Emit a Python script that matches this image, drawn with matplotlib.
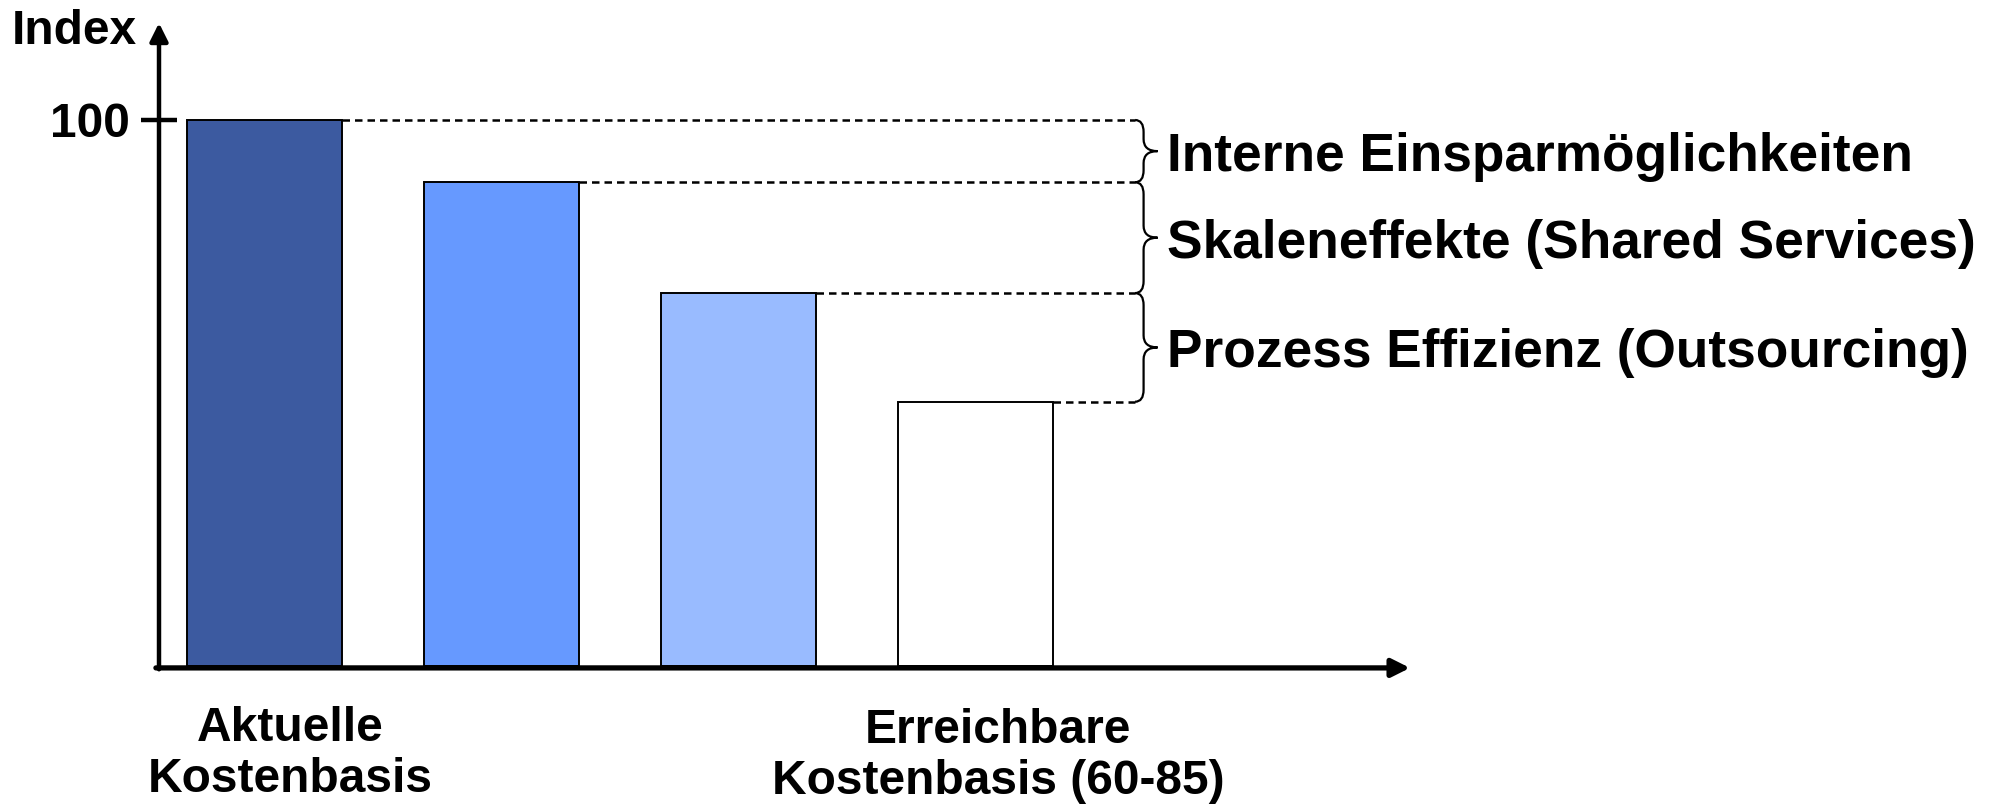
import matplotlib
matplotlib.use("Agg")
import matplotlib.pyplot as plt
from matplotlib.path import Path
from matplotlib.patches import PathPatch
from matplotlib.transforms import offset_copy

# --- data -------------------------------------------------------------
bar_values = [100, 88.6, 68.3, 48.4]
bar_colors = ["#3C5AA0", "#6699FF", "#99BBFF", "#FFFFFF"]
bracket_labels = [
    "Interne Einsparmöglichkeiten",
    "Skaleneffekte (Shared Services)",
    "Prozess Effizienz (Outsourcing)",
]
category_labels = [
    ("Aktuelle", "Kostenbasis"),
    ("Erreichbare", "Kostenbasis (60-85)"),
]
y_tick_value = 100
y_label = "Index"

# --- figure -----------------------------------------------------------
W, H, DPI = 1992, 808, 100
plt.rcParams["font.family"] = ["Liberation Sans", "DejaVu Sans"]
plt.rcParams["font.weight"] = "bold"
fig = plt.figure(figsize=(W / DPI, H / DPI), dpi=DPI)
fig.patch.set_facecolor("white")

# axes spans from the y-axis line to the tip of the x-axis arrow
x0_px, x1_px, y0_px, y1_px = 159, 1410, 666, 23
ax = fig.add_axes([x0_px / W, 1 - y0_px / H, (x1_px - x0_px) / W, (y0_px - y1_px) / H])
ax.set_xlim(-0.445, 4.833)
ax.set_ylim(0, 117.77)
ax.axis("off")

xs = list(range(len(bar_values)))
bar_w = 0.655
ax.bar(xs, bar_values, width=bar_w, color=bar_colors, edgecolor="black",
       linewidth=1.4, zorder=3)

# axes with arrow heads
xl, xr = ax.get_xlim()
yb, yt = ax.get_ylim()
arrow_kw = dict(arrowstyle="-|>,head_length=0.4,head_width=0.2", mutation_scale=27,
                color="black", shrinkA=0, shrinkB=0)
ax.annotate("", xy=(xl, yt), xytext=(xl, yb - 0.6), xycoords="data",
            arrowprops=dict(lw=3.2, **arrow_kw), annotation_clip=False, zorder=5)
ax.annotate("", xy=(xr, yb - 0.35), xytext=(xl - 0.013, yb - 0.35), xycoords="data",
            arrowprops=dict(lw=3.8, **arrow_kw), annotation_clip=False, zorder=5)

# tick mark and label at 100
ax.plot([xl - 0.076, xl + 0.076], [y_tick_value] * 2, color="black", lw=3.2,
        solid_capstyle="butt", clip_on=False, zorder=5)
tick_tr = offset_copy(ax.transData, fig=fig, x=-11, y=-17, units="dots")
ax.text(xl - 0.076, y_tick_value, str(y_tick_value), transform=tick_tr,
        ha="right", va="baseline", fontsize=34.5, fontweight="bold")

fig.text(12 / W, 1 - 44 / H, y_label, ha="left", va="baseline",
         fontsize=34.5, fontweight="bold")

# dashed guide lines from each bar top to the braces
brace_x = 3.673
for x, v in zip(xs, bar_values):
    ax.plot([x + bar_w / 2, brace_x], [v, v], color="black", lw=1.8,
            linestyle=(0, (3.0, 2.0)), clip_on=False, zorder=2)


def brace(ax, x0, top, bot, d=0.036, t=0.059, r=2.2):
    tip = (top + bot) / 2
    verts = [
        (x0, top), (x0 + d, top), (x0 + d, top - r),
        (x0 + d, tip + r),
        (x0 + d, tip), (x0 + d + t, tip),
        (x0 + d, tip), (x0 + d, tip - r),
        (x0 + d, bot + r),
        (x0 + d, bot), (x0, bot),
    ]
    codes = [Path.MOVETO, Path.CURVE3, Path.CURVE3,
             Path.LINETO,
             Path.CURVE3, Path.CURVE3,
             Path.CURVE3, Path.CURVE3,
             Path.LINETO,
             Path.CURVE3, Path.CURVE3]
    ax.add_patch(PathPatch(Path(verts, codes), facecolor="none", edgecolor="black",
                           lw=1.6, clip_on=False, zorder=4))
    return tip


label_tr = offset_copy(ax.transData, fig=fig, x=0, y=-20, units="dots")
for i, text in enumerate(bracket_labels):
    top, bot = bar_values[i], bar_values[i + 1]
    tip = brace(ax, brace_x, top, bot)
    ax.text(3.808, tip, text, transform=label_tr,
            ha="left", va="baseline", fontsize=38.3, fontweight="bold", clip_on=False)

# category captions under the first and last bar
caption_pos = [(290, 741), (998, 743)]
for (l1, l2), (cx, by) in zip(category_labels, caption_pos):
    fig.text(cx / W, 1 - by / H, l1, ha="center", va="baseline",
             fontsize=34.5, fontweight="bold")
    fig.text(cx / W, 1 - (by + 51) / H, l2, ha="center", va="baseline",
             fontsize=34.5, fontweight="bold")

fig.savefig("out.png", dpi=DPI, facecolor="white")
